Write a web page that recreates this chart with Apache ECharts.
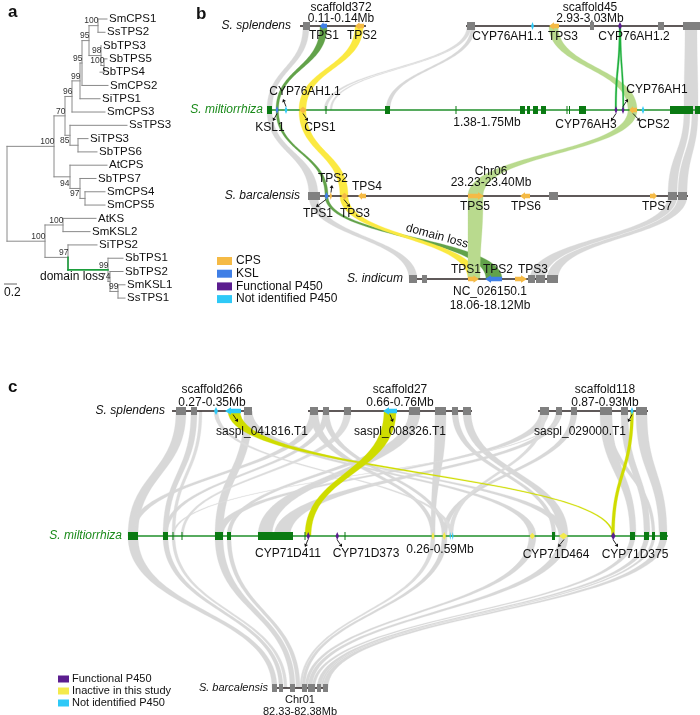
<!DOCTYPE html>
<html><head><meta charset="utf-8">
<script src="https://cdn.jsdelivr.net/npm/echarts@6/dist/echarts.min.js"></script>
<style>html,body{margin:0;padding:0;background:#fff}#c{width:700px;height:715px}</style>
</head><body><div id="c"></div><script>
// ================= DATA =================
// ---- Panel a : phylogenetic tree ----
const leafNames = ['SmCPS1','SsTPS2','SbTPS3','SbTPS5','SbTPS4','SmCPS2','SiTPS1','SmCPS3','SsTPS3','SiTPS3','SbTPS6','AtCPS','SbTPS7','SmCPS4','SmCPS5','AtKS','SmKSL2','SiTPS2','SbTPS1','SbTPS2','SmKSL1','SsTPS1'];
const leafTipX = [107,105,101,107,100,108,100,105,127,88,97,107,96,105,105,96,90,97,123,123,125,125];
// [node, childA, childB, depth, bootstrap]
const treeNodes = [
 ['n1','L0','L1',98,'100'],['n2','L3','L4',104,'100'],['n3','L2','n2',101,'98'],
 ['n4','n1','n3',89,'95'],['n5','n4','L5',82,'95'],['n6','n5','L6',80,'99'],
 ['n7','n6','L7',72,'96'],['n9','L9','L10',78,'85'],['n8','L8','n9',70,''],
 ['nB','n7','n8',65,'70'],['nG','L13','L14',85,'97'],['nF','L12','nG',80,'94'],
 ['nE','L11','nF',70,''],['nA','nB','nE',54,'100'],['nL','L15','L16',63,'100'],
 ['nS','L20','L21',118,'99'],['nR','L19','nS',110,'74'],['nQ','L18','nR',108,'99'],
 ['nM','L17','nQ',68,'97'],['nK','nL','nM',45,'100'],['root','nA','nK',7,'']
];
const domainLossBranch = ['nM','nQ'];

// ---- Panel b : synteny of diterpene synthase loci ----
const bTracks = ['S. splendens','S. miltiorrhiza','S. barcalensis','S. indicum'];
const bBackbones = [[0,300,366],[0,466,700],[1,267,700],[2,308,688],[3,409,558]];
// [track, start, end, kind, strand]
const bGenes = [
 [0,303,310,'box',0],[0,320,327,'ksl',-1],[0,355,364,'cps',-1],[0,467,475,'box',0],[0,531,534,'np450',0],
 [0,549,559,'cps',-1],[0,590,594,'box',0],[0,618,622,'fp450',0],[0,658,664,'box',0],[0,683,700,'box',0],
 [1,267,272,'gbox',0],[1,275.5,278.5,'ksl',0],[1,284.5,287.5,'np450',0],[1,299,307,'cps',0],[1,325.5,326.5,'gbox',0],
 [1,385,390,'gbox',0],[1,455.5,456.5,'gbox',0],[1,520,525,'gbox',0],[1,527,530,'gbox',0],[1,533,538,'gbox',0],
 [1,541,546,'gbox',0],[1,566.5,567.5,'gbox',0],[1,569,570,'gbox',0],[1,579,586,'gbox',0],[1,614.5,617.5,'fp450',0],
 [1,621.5,624.5,'fp450',0],[1,629,637,'cps',-1],[1,641.5,644.5,'np450',0],[1,670,693,'gbox',0],[1,695,700,'gbox',0],
 [2,308,320,'box',0],[2,324.5,328.5,'ksl',0],[2,329.5,332,'cps',0],[2,341,348,'cps',0],[2,358,366,'cps',-1],
 [2,468,484,'cps',1],[2,520,530,'cps',-1],[2,549,558,'box',0],[2,650,657,'cps',1],[2,668,677,'box',0],[2,678,687,'box',0],
 [3,409,417,'box',0],[3,422,427,'box',0],[3,468,479,'cps',1],[3,485,502,'ksl',-1],[3,515,527,'cps',1],
 [3,528,535,'box',0],[3,536,545,'box',0],[3,547,558,'box',0]
];
// [trackTop, a1, a2, trackBottom, b1, b2, kind]
const bLinks = [
 [0,303,309,1,267,272,'gray'],[1,267,272,2,309,318,'gray'],[2,309,318,3,409,417,'gray'],
 [0,467,470,1,324,327,'grayThin'],[0,469,471,1,330,332,'grayThin'],[0,471,475,1,386,390,'gray'],
 [0,685,697,1,684,698,'gray'],[1,684,690,2,668,677,'gray'],[1,692,698,2,678,687,'gray'],
 [2,668,677,3,530,545,'gray'],[2,678,687,3,547,558,'gray'],
 [0,320,327,1,276,278.5,'ksl'],[1,276,278.5,2,325,328,'ksl'],[2,325,328,3,486,502,'ksl'],
 [0,355,363,1,299,306,'cps'],[1,299,306,2,340,348,'cps'],[2,340,348,3,468,478,'cps'],
 [0,549,558,1,628,637,'lg'],[1,628,637,2,468,483,'lg'],[2,468,483,3,468,480,'lg'],
 [0,619,620.6,1,615,616.6,'bg'],[0,619.6,621,1,622.6,624,'bg']
];
// [track, x, offset, text]
const bLabels = [
 [0,341,-18,'scaffold372'],[0,341,-7.5,'0.11-0.14Mb'],[0,590,-18,'scaffold45'],[0,590,-7.5,'2.93-3.03Mb'],
 [0,324,10,'TPS1'],[0,362,10,'TPS2'],[0,508,11,'CYP76AH1.1'],[0,563,11,'TPS3'],[0,634,11,'CYP76AH1.2'],
 [1,305,-18,'CYP76AH1.1'],[1,270,18,'KSL1'],[1,320,18,'CPS1'],[1,487,13,'1.38-1.75Mb'],
 [1,657,-20,'CYP76AH1'],[1,586,15,'CYP76AH3'],[1,654,15,'CPS2'],
 [2,333,-17,'TPS2'],[2,367,-9,'TPS4'],[2,318,18,'TPS1'],[2,355,18,'TPS3'],
 [2,491,-24,'Chr06'],[2,491,-13,'23.23-23.40Mb'],[2,475,11,'TPS5'],[2,526,11,'TPS6'],[2,657,11,'TPS7'],
 [3,466,-9,'TPS1'],[3,498,-9,'TPS2'],[3,533,-9,'TPS3'],[3,490,13,'NC_026150.1'],[3,490,27,'18.06-18.12Mb']
];
// [track, geneX, side(+1 below/-1 above), labelX]
const bPointers = [[1,277,1,273],[1,286,-1,283],[1,303,1,308],[1,623,-1,628],[1,616,1,611],[1,633,1,640],
 [2,331,-1,332],[2,326,1,316],[2,344,1,350]];
const bLegend = [['cps','CPS'],['ksl','KSL'],['fp450','Functional P450'],['np450','Not identified P450']];

// ---- Panel c : synteny of CYP71D loci ----
const cTracks = ['S. splendens','S. miltiorrhiza','S. barcalensis'];
const cBackbones = [[0,172,252],[0,308,472],[0,538,648],[1,128,668],[2,272,328]];
const cGenes = [
 [0,176,186,'box',0],[0,191,197,'box',0],[0,214,218,'np450',0],[0,225,241,'np450',-1],[0,244,252,'box',0],
 [0,310,318,'box',0],[0,323,329,'box',0],[0,344,351,'box',0],[0,383,397,'np450',-1],[0,409,420,'box',0],
 [0,435,446,'box',0],[0,452,458,'box',0],[0,463,471,'box',0],
 [0,540,549,'box',0],[0,556,562,'box',0],[0,571,577,'box',0],[0,600,612,'box',0],[0,621,628,'box',0],
 [0,630.5,633.5,'np450',0],[0,636,647,'box',0],
 [1,128,138,'gbox',0],[1,163,168,'gbox',0],[1,172.5,173.5,'gbox',0],[1,181.5,182.5,'gbox',0],[1,215,223,'gbox',0],
 [1,227,231,'gbox',0],[1,258,293,'gbox',0],[1,304.5,305.5,'gbox',0],[1,306.5,310,'fp450',0],[1,335.5,339,'fp450',0],
 [1,344.5,345.5,'gbox',0],[1,431.5,434.5,'inact',0],[1,442.5,446,'inact',0],[1,449.5,451,'np450',0],[1,452,453.5,'np450',0],
 [1,529.5,535,'inact',0],[1,552,555,'gbox',0],[1,559,568,'inact',0],[1,611,615.5,'fp450',0],
 [1,630,635,'gbox',0],[1,644,649,'gbox',0],[1,652,655,'gbox',0],[1,660,667,'gbox',0],
 [2,272,277,'box',0],[2,279,283,'box',0],[2,290,295,'box',0],[2,302,307,'box',0],[2,308,315,'box',0],
 [2,317,321,'box',0],[2,323,328,'box',0]
];
const cLinks = [
 [0,176,186,1,128,138,'gray'],[0,191,197,1,163,168,'gray'],[0,199,202,1,172,175,'grayThin'],
 [0,244,252,1,215,223,'gray'],[0,244,252,1,529,536,'gray'],[0,246,252,1,559,568,'gray'],
 [0,310,318,1,128,134,'gray'],[0,323,329,1,163,167,'gray'],[0,344,351,1,181,183.5,'grayThin'],
 [0,310,318,1,431,435,'gray'],[0,323,329,1,442,446,'gray'],
 [0,409,420,1,227,231,'gray'],[0,409,420,1,258,272,'gray'],[0,435,446,1,431,435,'gray'],
 [0,452,458,1,552,556,'gray'],[0,463,471,1,559,568,'gray'],
 [0,540,549,1,215,223,'gray'],[0,556,562,1,274,290,'gray'],[0,571,577,1,442,447,'gray'],
 [0,542,546,1,449,453,'grayThin'],[0,214,218,1,449.5,453,'grayThin'],[0,560,562,1,172,174,'grayThin'],
 [0,600,612,1,630,636,'gray'],[0,621,628,1,644,650,'gray'],[0,636,647,1,659,667,'gray'],[0,604,609,1,652,655,'gray'],
 [0,228,240,1,612.5,614,'yg'],[0,384,396,1,305,311,'yg'],[0,630.5,633.5,1,611.5,614.5,'yg'],
 [1,128,138,2,272,277,'gray'],[1,163,168,2,279,283,'gray'],[1,172,175,2,284,287,'grayThin'],
 [1,215,223,2,290,295,'gray'],[1,227,231,2,296,300,'gray'],
 [1,431,435,2,300,302,'grayThin'],[1,442,447,2,302,305,'gray'],[1,529,536,2,305,308,'gray'],[1,559,568,2,308,312,'gray'],
 [1,630,635,2,312,315,'gray'],[1,644,649,2,317,321,'gray'],
 [1,652,655,2,321,323,'gray'],[1,660,667,2,323,328,'gray']
];
const cLabels = [
 [0,212,-21,'scaffold266'],[0,212,-8,'0.27-0.35Mb'],[0,400,-21,'scaffold27'],[0,400,-8,'0.66-0.76Mb'],
 [0,605,-21,'scaffold118'],[0,605,-8,'0.87-0.93Mb'],
 [0,262,21,'saspl_041816.T1'],[0,400,21,'saspl_008326.T1'],[0,580,21,'saspl_029000.T1'],
 [1,288,18,'CYP71D411'],[1,366,18,'CYP71D373'],[1,440,14,'0.26-0.59Mb'],[1,556,19,'CYP71D464'],[1,635,19,'CYP71D375']
];
const cPointers = [[0,233,1,238],[0,390,1,393],[0,632,1,628],[1,308,1,305],[1,337,1,342],[1,564,1,558],[1,613,1,618]];
const cLegend = [['fp450','Functional P450'],['inact','Inactive in this study'],['np450','Not identified P450']];

// ================= LAYOUT / STYLE =================
const LEAF_TOP = 19, LEAF_STEP = 13.29;
const bTrackY = [26,110,196,279];
const cTrackY = [411,536,688];
const bLabelRight = [[291,'#111'],[263,'#1a8a1a'],[300,'#111'],[403,'#111']];
const cLabelRight = [[165,'#111'],[122,'#1a8a1a'],[268,'#111']];
const GENE_COL = {box:'#808080', gbox:'#0a7a12', cps:'#f5ba45', ksl:'#3f7fe6', fp450:'#5b1d8f', np450:'#2ec9f7', inact:'#f4ea4c'};
const LINK_COL = {gray:'#d8d8d8', grayThin:'#dcdcdc', ksl:'#62a24a', cps:'#fbe941', lg:'#b9da8e', bg:'#1fb03d', yg:'#cfdc00'};
const FONT = '"Liberation Sans", Arial, sans-serif';
const NARROW = '"Liberation Sans Narrow", "Liberation Sans", Arial, sans-serif';

// ================= BUILD =================
const chart = echarts.init(document.getElementById('c'), null, {renderer:'canvas'});
function cs(records, draw, z) {
  return {type:'custom', coordinateSystem:'cartesian2d', silent:true, z:z||1, clip:false, animation:false,
    data: records.map((r,i)=>[i,0]),
    renderItem:(params, api)=>draw(records[params.dataIndex], api)};
}
const C = (api,x,y)=>api.coord([x,y]);
function bez(p0,p1,p2,p3,t){const u=1-t;return [u*u*u*p0[0]+3*u*u*t*p1[0]+3*u*t*t*p2[0]+t*t*t*p3[0],u*u*u*p0[1]+3*u*u*t*p1[1]+3*u*t*t*p2[1]+t*t*t*p3[1]];}
function ribbon(api,a1,a2,ya,b1,b2,yb,fill){
  const A1=C(api,a1,ya),A2=C(api,a2,ya),B1=C(api,b1,yb),B2=C(api,b2,yb);
  const ym=(A1[1]+B1[1])/2, N=48, pts=[];
  for(let i=0;i<=N;i++) pts.push(bez(A1,[A1[0],ym],[B1[0],ym],B1,i/N));
  for(let i=N;i>=0;i--) pts.push(bez(A2,[A2[0],ym],[B2[0],ym],B2,i/N));
  return {type:'polygon', shape:{points:pts}, style:{fill:fill, stroke:fill, lineWidth:0.3}};
}
function geneShape(api,x1,x2,y,kind,strand,hh){
  const p1=C(api,x1,y), p2=C(api,x2,y), cy=p1[1], fill=GENE_COL[kind];
  if(kind==='box'||kind==='gbox'){
    return {type:'rect', shape:{x:p1[0], y:cy-hh, width:Math.max(1,p2[0]-p1[0]), height:hh*2}, style:{fill}};
  }
  if(!strand){
    const xm=(p1[0]+p2[0])/2, h=(kind==='cps'||kind==='inact')&&p2[0]-p1[0]>5?hh*0.8:hh;
    return {type:'polygon', shape:{points:[[p1[0],cy],[xm,cy-h],[p2[0],cy],[xm,cy+h]]}, style:{fill}};
  }
  const a=p1[0], b=p2[0], w=b-a, hl=Math.min(w*0.5,6), bh=hh*0.55, H=hh*0.95;
  const pts = strand<0 ?
    [[a,cy],[a+hl,cy-H],[a+hl,cy-bh],[b,cy-bh],[b,cy+bh],[a+hl,cy+bh],[a+hl,cy+H]] :
    [[b,cy],[b-hl,cy-H],[b-hl,cy-bh],[a,cy-bh],[a,cy+bh],[b-hl,cy+bh],[b-hl,cy+H]];
  return {type:'polygon', shape:{points:pts}, style:{fill}};
}
function text(api,x,y,str,font,opt){
  opt=opt||{}; const p=C(api,x,y);
  return {type:'text', x:p[0], y:p[1], rotation:opt.rot||0,
    style:{text:str, fill:opt.color||'#111', font:font, align:opt.align||'center', verticalAlign:opt.va||'middle'}};
}
function pointer(api,x,y0,x1,y1){
  const a=C(api,x,y0), b=C(api,x1,y1);
  const dx=b[0]-a[0], dy=b[1]-a[1], L=Math.hypot(dx,dy)||1, ux=dx/L, uy=dy/L, s=3;
  const bx=b[0]-ux*s, by=b[1]-uy*s;
  return {type:'group', children:[
    {type:'line', shape:{x1:a[0],y1:a[1],x2:bx,y2:by}, style:{stroke:'#111', lineWidth:0.9}},
    {type:'polygon', shape:{points:[[b[0],b[1]],[bx-uy*2,by+ux*2],[bx+uy*2,by-ux*2]]}, style:{fill:'#111'}}]};
}

// ---- tree geometry from data ----
const tpos = {}, parentOf = {};
leafNames.forEach((n,i)=>{tpos['L'+i]={x:leafTipX[i], y:LEAF_TOP+i*LEAF_STEP};});
treeNodes.forEach(n=>{tpos[n[0]]={x:n[3], y:(tpos[n[1]].y+tpos[n[2]].y)/2}; parentOf[n[1]]=n[0]; parentOf[n[2]]=n[0];});
const treeSegs=[];
treeNodes.forEach(n=>{
  const p=tpos[n[0]], A=tpos[n[1]], B=tpos[n[2]];
  treeSegs.push([p.x,A.y,p.x,B.y,'#8a8a8a']);
  [[n[1],A],[n[2],B]].forEach(([id,c])=>{
    const green = n[0]===domainLossBranch[0] && id===domainLossBranch[1];
    treeSegs.push([p.x,c.y,c.x,c.y, green?'#1c9e3c':'#8a8a8a']);
    if(green) treeSegs.push([p.x,p.y,p.x,c.y,'#1c9e3c']);
  });
});
const treeLabelRecs = leafNames.map((n,i)=>[leafTipX[i]+2, LEAF_TOP+i*LEAF_STEP, n]);
// support values of nodes whose branch is short are drawn at the start of that branch
const treeSupRecs = treeNodes.filter(n=>n[4]).map(n=>{
  const par=tpos[parentOf[n[0]]], own=tpos[n[0]];
  const atParent = own.x-par.x < 12 && ['n9','nF','nG'].includes(n[0]);
  return [(atParent?par.x-0.5:own.x+0.5), own.y-4.5, n[4]];
});

const series = [];
// tree
series.push(cs(treeSegs,(s,api)=>{const a=C(api,s[0],s[1]),b=C(api,s[2],s[3]);
  return {type:'line', shape:{x1:a[0],y1:a[1],x2:b[0],y2:b[1]}, style:{stroke:s[4], lineWidth:s[4]==='#8a8a8a'?1:1.6, lineCap:'square'}, z2:s[4]==='#8a8a8a'?1:2};},5));
series.push(cs(treeLabelRecs,(r,api)=>text(api,r[0],r[1],r[2],'11.5px '+FONT,{align:'left'}),6));
series.push(cs(treeSupRecs,(r,api)=>text(api,r[0],r[1],r[2],'8.5px '+FONT,{align:'right',color:'#333'}),6));

// panel b
const linkZ = k => (k==='gray'||k==='grayThin')?1:2;
series.push(cs(bLinks.filter(l=>linkZ(l[6])===1),(l,api)=>ribbon(api,l[1],l[2],bTrackY[l[0]],l[4],l[5],bTrackY[l[3]],LINK_COL[l[6]]),1));
series.push(cs(bLinks.filter(l=>linkZ(l[6])===2),(l,api)=>ribbon(api,l[1],l[2],bTrackY[l[0]],l[4],l[5],bTrackY[l[3]],LINK_COL[l[6]]),2));
series.push(cs(bBackbones,(s,api)=>{const a=C(api,s[1],bTrackY[s[0]]),b=C(api,s[2],bTrackY[s[0]]);
  return {type:'line', shape:{x1:a[0],y1:a[1],x2:b[0],y2:b[1]}, style:{stroke:s[0]===1?'#1f8f2a':'#2a2222', lineWidth:1.3}};},3));
series.push(cs(bGenes,(g,api)=>geneShape(api,g[1],g[2],bTrackY[g[0]],g[3],g[4],4),4));
series.push(cs(bLabels,(r,api)=>text(api,r[1],bTrackY[r[0]]+r[2],r[3],'12px '+FONT),6));
series.push(cs(bPointers,(r,api)=>{const y=bTrackY[r[0]];return pointer(api,r[1],y+r[2]*3.5,r[3],y+r[2]*11);},6));
series.push(cs(bTracks,(t,api)=>{const i=bTracks.indexOf(t);return text(api,bLabelRight[i][0],bTrackY[i],t,'italic 12px '+FONT,{align:'right',color:bLabelRight[i][1]});},6));
series.push(cs(bLegend,(r,api)=>{const i=bLegend.indexOf(r), y=261+i*12.7, p=C(api,217,y);
  return {type:'group',children:[{type:'rect',shape:{x:p[0],y:p[1]-4,width:15,height:8},style:{fill:GENE_COL[r[0]]}},
    text(api,236,y,r[1],'12px '+FONT,{align:'left'})]};},6));

// panel c
series.push(cs(cLinks.filter(l=>linkZ(l[6])===1),(l,api)=>ribbon(api,l[1],l[2],cTrackY[l[0]],l[4],l[5],cTrackY[l[3]],LINK_COL[l[6]]),1));
series.push(cs(cLinks.filter(l=>linkZ(l[6])===2),(l,api)=>ribbon(api,l[1],l[2],cTrackY[l[0]],l[4],l[5],cTrackY[l[3]],LINK_COL[l[6]]),2));
series.push(cs(cBackbones,(s,api)=>{const a=C(api,s[1],cTrackY[s[0]]),b=C(api,s[2],cTrackY[s[0]]);
  return {type:'line', shape:{x1:a[0],y1:a[1],x2:b[0],y2:b[1]}, style:{stroke:s[0]===1?'#1f8f2a':'#2a2222', lineWidth:1.3}};},3));
series.push(cs(cGenes,(g,api)=>geneShape(api,g[1],g[2],cTrackY[g[0]],g[3],g[4],4),4));
series.push(cs(cLabels,(r,api)=>text(api,r[1],cTrackY[r[0]]+r[2],r[3],'12px '+FONT),6));
series.push(cs(cPointers,(r,api)=>{const y=cTrackY[r[0]];return pointer(api,r[1],y+r[2]*3.5,r[3],y+r[2]*11);},6));
series.push(cs(cTracks,(t,api)=>{const i=cTracks.indexOf(t);return text(api,cLabelRight[i][0],cTrackY[i],t,(i===2?'italic 11px '+NARROW:'italic 12px '+FONT),{align:'right',color:cLabelRight[i][1]});},6));
series.push(cs([['Chr01',0],['82.33-82.38Mb',1]],(r,api)=>text(api,300,cTrackY[2]+12+r[1]*12,r[0],'11px '+NARROW),6));
series.push(cs(cLegend,(r,api)=>{const i=cLegend.indexOf(r), y=679+i*12, p=C(api,58,y);
  return {type:'group',children:[{type:'rect',shape:{x:p[0],y:p[1]-3.5,width:11,height:7},style:{fill:GENE_COL[r[0]]}},
    text(api,72,y,r[1],'11px '+NARROW,{align:'left'})]};},6));

// misc annotations
const annotations = [[8,12,'a','bold 17px '],[196,14,'b','bold 17px '],[8,387,'c','bold 17px ']];
series.push(cs(annotations,(r,api)=>text(api,r[0],r[1],r[2],r[3]+FONT,{align:'left'}),7));
series.push(cs([['domain loss']],(r,api)=>{const n=tpos[domainLossBranch[1]];return text(api,72,n.y+7,r[0],'12px '+FONT);},6));
series.push(cs([['domain loss']],(r,api)=>text(api,437,236,r[0],'12px '+FONT,{rot:-0.27}),6));
series.push(cs([[0.2]],(r,api)=>{const a=C(api,4,284),b=C(api,17,284);
  return {type:'group',children:[{type:'line',shape:{x1:a[0],y1:a[1],x2:b[0],y2:b[1]},style:{stroke:'#666',lineWidth:1}},
   text(api,4,293,String(r[0]),'12px '+FONT,{align:'left'})]};},6));

chart.setOption({
  animation:false,
  grid:{left:0,right:0,top:0,bottom:0},
  xAxis:{type:'value',min:0,max:700,show:false},
  yAxis:{type:'value',min:0,max:715,inverse:true,show:false},
  series
});
</script></body></html>
